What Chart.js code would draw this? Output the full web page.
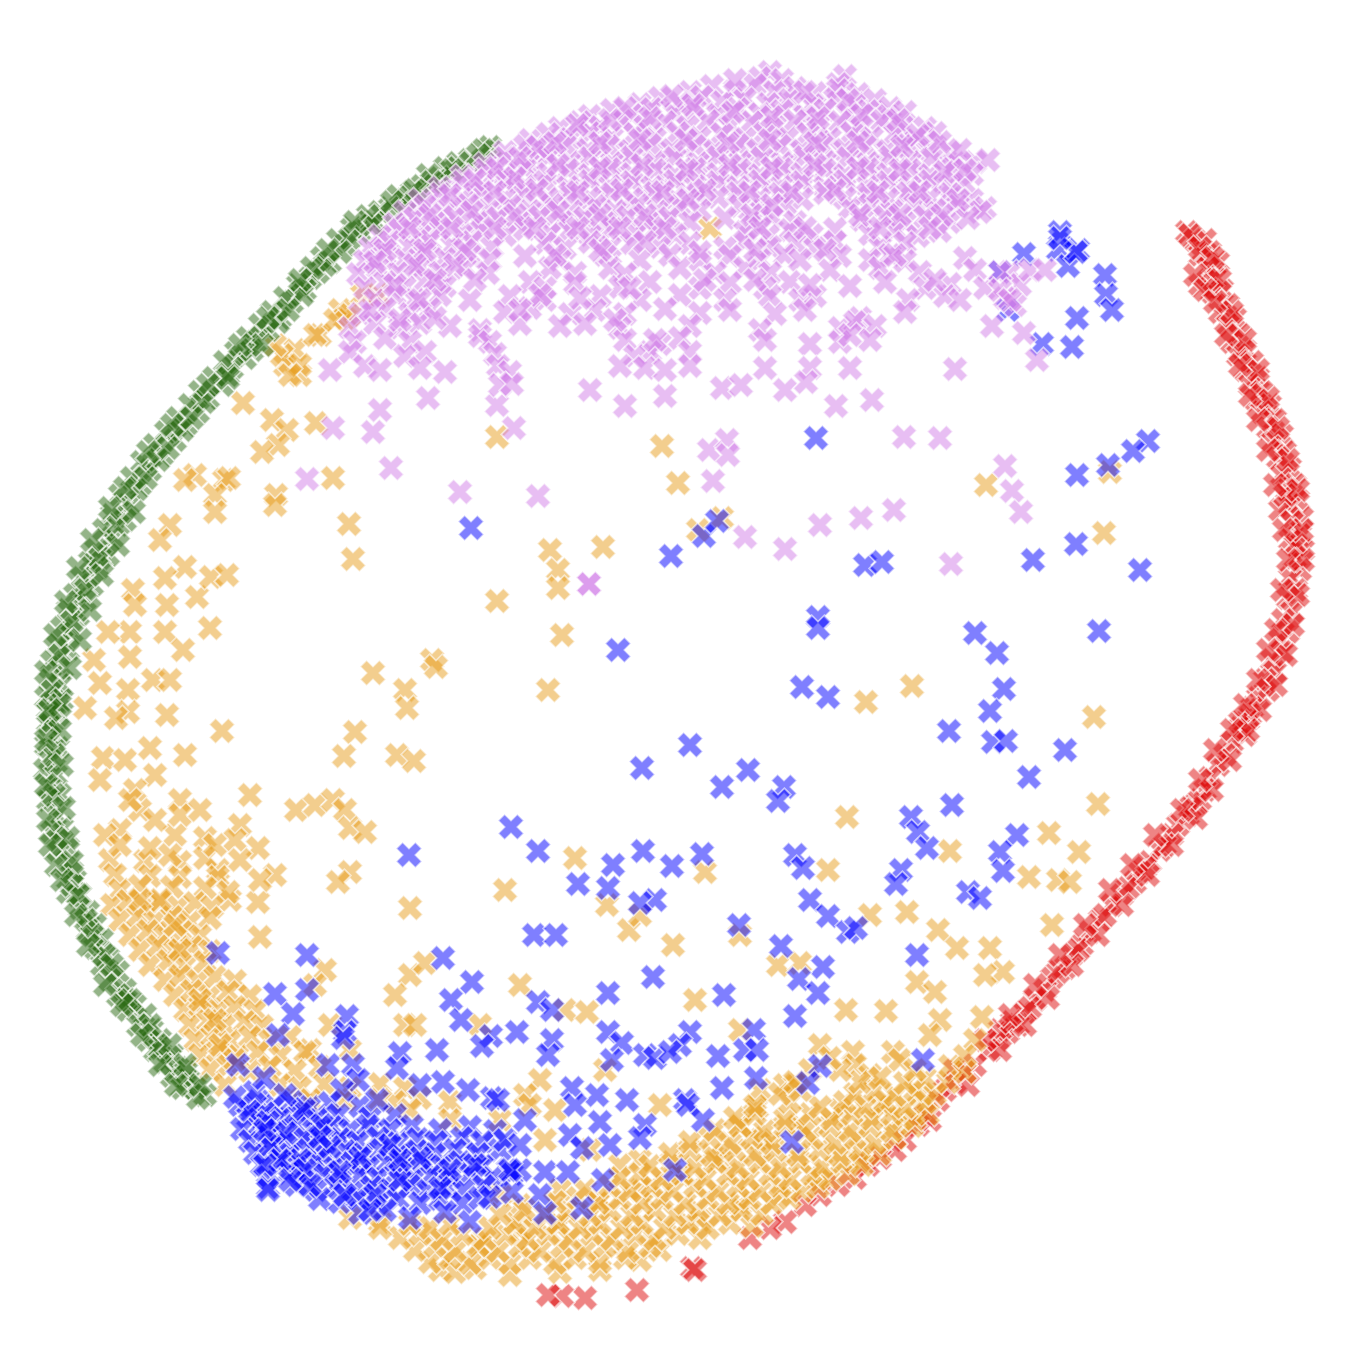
<!DOCTYPE html>
<html>
<head>
<meta charset="utf-8">
<style>
body { margin: 0; background: #fff; }
canvas { display: block; }
</style>
<script src="https://cdn.jsdelivr.net/npm/chart.js@4/dist/chart.umd.min.js"></script>
</head>
<body>
<canvas id="canvas" width="1353" height="1353"></canvas>
<script>
// values, axis units run 0-1353 on both sides
var purple = [
[770,72],[760,78],[782,80],[845,76],[838,84],
[690,92],[712,86],[735,90],[755,85],[775,92],[795,88],[815,93],[838,90],[858,94],
[640,104],[660,98],[680,103],[702,97],[722,102],[745,99],[768,104],[790,100],[812,105],[835,99],[855,104],[875,100],[890,108],
[590,116],[612,110],[632,115],[652,109],[675,114],[695,110],[718,115],[738,109],[760,114],[782,111],[805,116],[825,110],[848,115],[868,111],[888,116],[905,112],
[560,128],[580,122],[600,127],[622,121],[645,126],[665,122],[688,127],[708,121],[730,126],[752,122],[775,127],[795,121],[818,126],[840,122],[860,127],[882,121],[902,126],[925,128],
[530,140],[548,134],[570,139],[590,133],[612,138],[635,134],[655,139],[678,133],[700,138],[722,134],[745,139],[765,133],[788,138],[808,134],[830,139],[852,133],[872,138],[895,134],[915,139],[935,133],
[505,152],[525,146],[545,151],[565,145],[588,150],[608,146],[630,151],[650,145],[672,150],[695,146],[715,151],[738,145],[758,150],[780,146],[802,151],[822,145],[845,150],[865,146],[888,151],[908,145],[930,150],[950,152],
[485,164],[505,158],[528,163],[548,157],[570,162],[590,158],[612,163],[632,157],[655,162],[675,158],[698,163],[718,157],[740,162],[762,158],[782,163],[805,157],[825,162],[848,158],[868,163],[890,157],[910,162],[932,158],[955,163],[975,162],[988,160],
[462,176],[485,170],[505,175],[525,169],[548,174],[568,170],[590,175],[610,169],[632,174],[655,170],[675,175],[695,169],[718,174],[740,170],[760,175],[782,169],[802,174],[825,170],[845,175],[868,169],[888,174],[910,170],[930,175],[952,169],[972,174],
[440,188],[462,182],[482,187],[505,181],[525,186],[545,182],[568,187],[590,181],[610,186],[632,182],[652,187],[675,181],[695,186],[718,182],[738,187],[760,181],[782,186],[802,182],[825,187],[845,181],[868,186],[888,182],[910,187],[930,181],[950,186],[965,184],
[420,200],[440,194],[462,199],[482,193],[505,198],[525,194],[548,199],[570,193],[590,198],[612,194],[632,199],[655,193],[675,198],[698,194],[718,197],[738,193],[760,198],[780,194],[802,199],[825,193],[845,198],[868,194],[888,199],[908,193],[930,198],[950,194],[972,200],[985,208],
[405,212],[425,206],[445,211],[468,205],[488,210],[510,206],[530,211],[552,205],[572,210],[595,206],[615,211],[638,205],[658,210],[680,206],[700,210],[740,206],[762,211],[785,205],[850,208],[870,205],[892,211],[915,205],[935,210],[958,206],[980,212],
[395,224],[415,218],[435,223],[455,217],[478,222],[498,218],[520,223],[540,217],[562,222],[585,218],[605,223],[628,217],[648,222],[670,218],[690,222],[725,218],[750,223],[772,217],[795,222],[862,220],[885,217],[905,223],[925,217],[950,222],[968,218],
[380,236],[400,230],[420,235],[440,229],[462,234],[482,230],[505,235],[525,229],[550,234],[570,230],[590,235],[612,229],[635,234],[655,230],[675,235],[745,232],[768,236],[790,230],[812,235],[835,229],[870,234],[895,230],[918,236],[940,231],
[370,248],[390,242],[410,247],[430,241],[452,246],[472,242],[492,247],[545,243],[565,248],[590,242],[610,247],[632,243],[660,247],[690,243],[725,248],[745,242],[770,247],[795,243],[815,248],[835,242],[880,247],[905,243],
[365,261],[385,255],[405,260],[425,254],[445,259],[470,255],[490,260],[525,256],[560,260],[605,255],[640,260],[670,255],[700,260],[730,256],[760,260],[785,255],[800,260],[840,256],[870,260],[890,255],[905,261],[965,258],
[358,274],[378,268],[398,273],[420,267],[440,272],[465,268],[488,273],[550,268],[575,273],[610,268],[625,274],[680,268],[715,273],[745,268],[770,273],[830,270],[880,268],[920,272],[975,270],[1010,272],
[365,288],[385,282],[405,287],[425,281],[445,286],[530,282],[545,288],[575,283],[620,287],[650,282],[700,288],[730,283],[765,288],[790,282],[850,286],[885,282],[925,288],[950,284],[985,288],[1020,285],
[375,300],[395,295],[415,300],[440,295],[470,300],[510,296],[545,300],[600,296],[640,300],[680,295],[725,300],[770,296],[800,300],[815,296],[908,300],[945,296],[960,300],[1005,298],
[360,314],[385,309],[410,314],[430,309],[505,312],[530,308],[570,314],[595,310],[625,314],[665,309],[700,313],[730,310],[775,314],[805,310],[860,318],[905,312],[992,326],
[350,328],[375,323],[400,328],[420,323],[450,326],[480,330],[520,324],[560,326],[585,324],[620,328],[690,326],[760,330],[840,328],[855,322],[875,326],
[355,342],[385,338],[410,342],[480,336],[490,342],[625,340],[660,344],[680,338],[765,340],[810,344],[840,342],[870,340],
[350,352],[405,356],[425,352],[495,354],[650,352],[690,352],[635,356],
[330,370],[365,366],[380,370],[420,368],[445,372],[498,366],[510,372],[620,366],[645,368],[665,370],[690,366],[765,368],[810,368],[850,368],
[333,428],[380,410],[373,432],[391,468],[307,479],[460,492],[538,496],[514,428],[497,405],[428,398],[590,390],[625,406],[665,396],[722,388],[741,385],[785,390],[806,382],[836,406],[872,400],[955,369],[904,437],[940,438],[709,450],[727,440],[728,455],[713,481],[1005,466],[1012,491],[1021,512],[894,510],[861,518],[820,525],[785,549],[745,537],[951,564],[589,584],[589,584],[1037,360],[1024,333],[1000,272],[500,385],[512,384],
[735,80],[805,92],[848,100],[672,96],[625,108],[577,125],[610,120],[650,118],[693,105],[733,112],[772,117],[818,118],[862,115],[898,120],[918,135],[940,142],[960,150],[538,147],[520,158],[555,143],[600,143],[640,140],[686,140],[728,143],[770,140],[815,143],[858,142],[902,146],[497,168],[475,180],[515,178],[558,165],[600,168],[642,165],[687,170],[730,165],[772,168],[815,165],[858,168],[900,170],[945,172],[965,170],[450,195],[495,192],[537,190],[578,192],[622,190],[663,192],[705,190],[750,192],[792,192],[835,190],[878,192],[920,192],[958,200],[430,215],[472,212],[515,215],[558,212],[600,215],[645,215],[688,200],[752,215],[772,205],[860,215],[900,215],[942,215],[410,228],[452,228],[495,228],[535,228],[578,228],[620,228],[665,228],[760,228],[805,228],[880,228],[930,228],[385,250],[425,250],[465,250],[555,255],[600,250],[645,242],[700,252],[755,250],[825,250],[895,255],[375,262],[415,265],[455,265],[395,285],[435,280],[475,280],[540,295],[580,298],[630,288],[705,280],[755,280],[810,285],[935,280],[1000,290],[370,310],[420,300],[400,320],[435,318],[520,310],[615,320],[655,340],[850,335],[1015,305],[1030,270],[1045,270],[1010,300]
];
var blue = [
[240,1105],[258,1101],[275,1106],[292,1102],[310,1107],[330,1103],[360,1106],
[248,1117],[265,1113],[282,1118],[300,1114],[318,1119],[338,1115],[370,1118],[395,1115],
[242,1129],[260,1125],[278,1130],[296,1126],[314,1131],[332,1127],[350,1130],[368,1126],[390,1130],[412,1126],[440,1130],[470,1127],[495,1131],
[250,1141],[268,1137],[286,1142],[304,1138],[322,1143],[340,1139],[358,1142],[378,1138],[398,1143],[418,1139],[436,1142],[462,1138],[482,1142],
[255,1153],[272,1149],[290,1154],[308,1150],[326,1155],[345,1151],[363,1154],[381,1150],[399,1155],[417,1151],[435,1154],[455,1150],[478,1154],[500,1150],
[262,1165],[280,1161],[298,1166],[316,1162],[334,1167],[352,1163],[370,1166],[388,1162],[406,1167],[424,1163],[442,1166],[460,1162],[482,1166],[508,1170],
[268,1177],[288,1173],[306,1178],[324,1174],[342,1179],[360,1175],[378,1178],[396,1174],[414,1179],[432,1175],[450,1178],[470,1174],[492,1178],[512,1174],
[268,1187],[296,1185],[316,1190],[336,1186],[354,1191],[372,1187],[390,1190],[410,1186],[428,1191],[446,1187],[464,1190],[484,1186],[512,1192],
[320,1199],[340,1202],[358,1198],[378,1203],[398,1199],[420,1203],[440,1199],[462,1203],[480,1198],
[360,1213],[385,1210],[410,1218],[445,1212],[470,1222],
[250,1110],[268,1122],[286,1133],[304,1109],[322,1125],[270,1145],[300,1160],[330,1147],[360,1158],[390,1145],[420,1158],[450,1170],[268,1190],[305,1170],[340,1172],[375,1195],[400,1180],[440,1188],[475,1165],[310,1185],[345,1195],[400,1160],[280,1160],[320,1137],[265,1130],
[235,1097],[255,1092],[285,1095],[265,1165],[290,1180],[370,1210],[490,1197],[505,1140],[520,1170],
[816,438],[1148,441],[1133,451],[1108,465],[1077,475],[471,528],[671,556],[704,536],[717,521],[865,565],[882,562],[1033,560],[1076,544],[1140,570],[818,617],[818,628],[1099,631],[975,633],[997,653],[618,650],[802,687],[828,697],[1004,689],[990,711],[949,731],[993,742],[1006,741],[1065,750],[690,745],[642,768],[748,770],[722,787],[784,787],[778,801],[1029,777],[952,805],[911,817],[918,832],[927,848],[1017,835],[1000,852],[1003,871],[901,870],[896,884],[968,892],[980,898],[511,827],[538,851],[409,855],[643,851],[613,865],[672,866],[702,854],[795,855],[803,868],[578,884],[608,888],[655,900],[640,903],[810,900],[828,916],[848,932],[856,928],[739,925],[781,946],[534,935],[556,935],[917,955],[218,953],[307,955],[443,958],[472,982],[451,1000],[653,977],[608,993],[724,995],[823,967],[799,979],[818,993],[795,1016],[538,1002],[552,1010],[461,1020],[275,994],[307,990],[293,1014],[278,1035],[347,1016],[345,1032],[343,1038],[517,1032],[491,1036],[482,1046],[552,1040],[548,1055],[608,1032],[622,1043],[612,1060],[645,1055],[655,1058],[690,1032],[680,1045],[670,1052],[754,1030],[745,1050],[757,1050],[718,1056],[923,1060],[820,1066],[808,1083],[756,1078],[722,1088],[437,1050],[400,1053],[397,1068],[328,1065],[353,1065],[358,1080],[238,1065],[264,1078],[342,1090],[377,1100],[420,1085],[443,1082],[468,1090],[492,1098],[498,1100],[572,1088],[597,1095],[575,1105],[627,1100],[685,1100],[688,1105],[703,1120],[792,1142],[600,1122],[645,1125],[640,1138],[610,1145],[525,1120],[520,1145],[570,1135],[582,1148],[675,1170],[603,1180],[582,1208],[545,1172],[568,1172],[510,1170],[540,1195],[545,1213],[1060,232],[1058,250],[1078,250],[1024,254],[1068,266],[1105,275],[1106,295],[1112,310],[1077,318],[1072,347],[1042,344],[1008,310],[1000,272],[1076,252],[1060,238]
];
var green = [
[490,147],[483,150],[470,160],[458,163],[445,168],[440,178],[428,175],[422,186],[412,192],[405,200],[398,196],[390,208],[380,212],[374,222],[368,216],[360,232],[352,228],[345,245],[338,240],[330,262],[322,258],[318,272],[310,278],[305,290],[298,285],[292,302],[285,298],[280,318],[272,312],[268,330],[260,325],[255,342],[248,338],[245,358],[236,352],[232,368],[225,362],[222,385],[214,378],[208,398],[200,392],[198,412],[190,405],[186,425],[178,418],[175,440],[166,432],[162,455],[155,445],[150,470],[142,462],[140,485],[132,478],[128,505],[120,495],[125,520],[112,515],[112,538],[104,530],[108,555],[96,550],[98,568],[90,562],[92,585],[82,578],[85,600],[75,595],[78,615],[68,610],[72,632],[62,628],[68,650],[58,645],[62,668],[52,662],[60,685],[50,680],[55,702],[46,698],[58,715],[48,722],[52,735],[46,745],[58,748],[50,760],[45,770],[56,775],[50,788],[60,795],[48,800],[55,815],[62,828],[52,832],[68,848],[58,850],[66,868],[75,880],[68,892],
[80,895],[72,885],[88,912],[80,908],[95,925],[88,930],[102,940],[95,948],[108,958],[102,965],[118,972],[110,980],[125,990],[118,995],[135,1005],[128,1010],[145,1015],[138,1025],[152,1030],[148,1040],[160,1040],[155,1050],[172,1055],[165,1062],[178,1068],[172,1076],[188,1080],[182,1088],[195,1088],[205,1095],[198,1098],
[350,238],[325,265],[302,295],[278,322],[252,350],[228,375],[204,402],[182,430],[158,460],[136,490],[118,525],[100,558],[86,590],[72,622],[60,655],[52,690],[50,725],[54,755],[54,795],[58,840],[72,872],[86,920],[104,955],[126,1000],[160,1048],[186,1072],
[478,155],[452,170],[432,182],[415,190],[392,202],[372,225],[355,222],[340,252],[328,250],[312,268],[300,280],[288,310],[268,318],[262,345],[240,345],[228,378],[208,385],[192,418],[172,425],[168,448],[148,452],[146,478],[125,488],[134,512],[110,508],[118,545],[92,540],[102,575],[78,568],[90,610],[66,602],[80,640],[55,635],[70,668],[46,672],[62,700],[48,712],[60,730],[46,740],[62,765],[46,785],[64,808],[48,820],[68,838],[50,845],[72,862],[56,865],[78,895],[62,880],[92,935],[76,915],[112,965],[88,945],[130,1000],[105,985],[150,1025],[122,1005],[170,1045],[142,1035],[185,1065],[160,1065],[200,1085],[176,1085],[60,705],[50,710]
];
var red = [
[1187,232],[1195,240],[1205,240],[1210,252],[1200,255],[1218,262],[1208,268],[1215,278],[1200,285],[1222,290],[1212,292],[1228,305],[1220,312],[1235,318],[1228,325],[1240,335],[1232,342],[1245,350],[1238,355],[1252,362],[1245,370],[1258,378],[1250,385],[1262,392],[1256,400],[1270,405],[1262,412],[1275,420],[1268,428],[1282,435],[1273,442],[1285,452],[1278,458],[1290,468],[1282,475],[1295,485],[1287,490],[1298,500],[1290,505],[1280,510],[1302,518],[1292,522],[1300,535],[1290,540],[1303,550],[1295,558],[1300,570],[1290,578],[1296,590],[1288,598],[1292,612],[1283,620],[1288,632],[1280,640],[1282,652],[1272,660],[1275,672],[1265,680],[1268,690],[1258,698],[1252,708],[1248,720],[1240,728],[1245,735],[1232,742],[1225,755],[1218,765],[1210,778],[1205,790],[1195,805],[1188,815],[1178,825],[1172,835],[1160,850],[1150,862],[1140,872],[1135,882],[1122,895],[1112,905],[1100,920],[1090,932],[1082,945],[1072,955],[1065,968],[1052,978],[1045,990],[1035,1000],[1025,1012],[1018,1025],[1008,1032],[998,1040],[990,1050],[975,1065],[965,1072],[955,1082],[945,1090],[938,1100],[925,1115],[918,1125],[905,1140],[895,1150],[880,1158],[868,1165],[855,1178],[838,1185],[820,1195],[805,1205],[785,1222],[770,1228],[750,1238],[692,1268],[695,1270],[637,1290],[585,1298],[562,1296],[548,1295],[1000,1030],[1012,1022],[1030,1008],[1058,972],[1078,950],[1105,915],[1128,888],[1145,868],[1165,845],[1190,808],[1200,800],[1250,715],[1240,722],[1285,495],[1296,545],
[1190,235],[1200,248],[1213,258],[1195,275],[1220,280],[1205,290],[1232,312],[1215,302],[1245,340],[1226,335],[1258,370],[1240,365],[1268,398],[1250,395],[1278,428],[1258,420],[1288,460],[1268,450],[1298,490],[1275,485],[1302,530],[1284,530],[1303,560],[1288,560],[1298,595],[1282,590],[1293,625],[1276,630],[1286,655],[1268,650],[1276,685],[1258,680],[1260,710],[1245,705],[1248,730],[1232,730],[1230,760],[1215,750],[1212,790],[1200,780],[1196,818],[1182,810],[1172,845],[1155,835],[1148,875],[1132,865],[1122,905],[1110,890],[1098,935],[1085,925],[1072,965],[1060,955],[1048,998],[1035,985],[1025,1025],[1010,1015],[1000,1050],[985,1040],[968,1085],[955,1070],[930,1120]
];
var orange = [
[710,228],[497,437],[662,446],[678,483],[986,485],[1110,472],[1104,533],[698,530],[722,518],[603,547],[550,550],[558,570],[558,588],[497,601],[562,635],[548,690],[373,673],[432,660],[436,667],[405,690],[407,708],[355,732],[344,756],[397,755],[414,761],[349,524],[353,559],[276,495],[275,505],[333,478],[272,420],[243,403],[316,423],[287,430],[278,445],[262,452],[224,480],[229,478],[215,495],[215,512],[195,475],[185,480],[170,525],[160,540],[185,567],[165,578],[133,590],[167,605],[197,597],[211,577],[227,575],[135,605],[210,628],[165,632],[130,632],[108,632],[183,650],[94,660],[130,657],[100,683],[128,690],[153,680],[170,680],[128,712],[116,718],[167,715],[222,731],[85,708],[103,758],[125,760],[150,748],[185,755],[155,775],[135,790],[100,780],[140,810],[180,800],[120,830],[105,835],[175,835],[205,838],[240,825],[250,795],[235,840],[258,848],[296,810],[315,805],[333,800],[345,810],[350,828],[365,832],[350,872],[338,882],[275,875],[218,870],[230,900],[258,902],[260,937],[410,908],[505,890],[575,858],[607,905],[629,930],[640,915],[705,872],[740,935],[673,945],[847,817],[828,870],[870,915],[907,912],[938,930],[957,948],[990,948],[1003,972],[985,975],[917,982],[935,992],[846,1010],[886,1011],[893,1052],[940,1020],[930,1035],[982,1017],[1052,925],[1029,877],[1058,880],[1070,882],[1079,852],[1049,833],[1098,804],[1094,717],[950,851],[912,686],[866,702],[778,965],[800,963],[695,1000],[740,1030],[820,1045],[853,1052],[855,1065],[810,1070],[785,1085],[757,1108],[520,985],[410,975],[425,963],[395,995],[405,1025],[415,1025],[330,1025],[350,1050],[310,1050],[325,970],[315,985],[480,1025],[565,1010],[587,1012],[605,1070],[540,1080],[525,1095],[660,1105],[545,1140],[740,1125],[795,1085],[340,310],[320,335],[295,350],[285,365],[300,375],[362,295],[345,318],[378,295],
[110,860],[145,861],[180,862],[205,858],
[115,875],[150,876],[180,877],[218,877],
[120,890],[140,886],[172,887],[205,888],[228,892],
[112,905],[128,901],[145,906],[160,902],[178,907],[195,903],[212,907],
[120,920],[138,916],[155,921],[172,917],[190,922],[210,918],
[130,935],[148,931],[165,936],[182,932],[200,936],
[140,950],[158,946],[175,951],[192,947],[210,951],
[150,965],[168,961],[185,966],[205,962],
[165,980],[180,976],[198,981],[215,977],[235,981],
[175,995],[192,991],[210,996],[228,992],[250,996],
[185,1010],[200,1006],[218,1011],[235,1007],[255,1011],
[190,1025],[208,1021],[225,1026],[245,1022],[262,1026],
[195,1040],[212,1036],[230,1041],[250,1037],[270,1041],[290,1037],
[200,1055],[218,1051],[238,1056],[258,1052],[280,1056],[305,1052],
[210,1070],[228,1066],[250,1071],[270,1067],[295,1071],[320,1067],
[225,1085],[280,1085],[300,1088],[325,1084],[350,1088],[380,1084],[405,1088],
[310,1100],[345,1100],[395,1102],[420,1098],[450,1102],
[160,900],[180,950],[200,1000],[220,1045],[140,900],[175,925],[215,1020],[235,1060],
[282,355],[300,365],[290,375],[315,335],[335,320],[350,315],[275,345],
[130,800],[155,820],[180,815],[200,810],[120,845],[150,848],[170,855],[240,860],[215,845],[260,880],
[380,1100],[410,1110],[450,1120],[500,1120],[530,1105],[555,1110],[590,1150],[620,1165],[640,1160],[560,1190],[520,1205],[500,1195],[380,1222],[350,1218],[760,1090],
[440,1270],[510,1275],[560,1272],[600,1270],[640,1260],[480,1245],[520,1230],[560,1225],[600,1200],[640,1190],[680,1175],[720,1160],[760,1140],[800,1125],[840,1110],[880,1105],[920,1095],[700,1220],[740,1205],[780,1195],[820,1180],[860,1160],[900,1120],[660,1250],[870,1075],[900,1060],[975,1040],
[455,1272],[475,1268],
[430,1262],[450,1258],[470,1263],[490,1258],[510,1263],[530,1258],[555,1263],[575,1258],[600,1262],[625,1258],
[415,1250],[435,1246],[455,1251],[478,1246],[498,1251],[520,1246],[540,1251],[562,1246],[585,1251],[605,1246],[628,1251],[650,1246],
[400,1238],[420,1234],[442,1239],[462,1234],[485,1239],[505,1234],[528,1239],[548,1234],[570,1239],[592,1234],[612,1239],[635,1234],[655,1239],[678,1234],[700,1238],
[380,1228],[410,1224],[430,1228],[450,1224],[490,1228],[515,1223],[535,1228],[558,1223],[580,1228],[600,1223],[622,1228],[642,1223],[665,1228],[688,1223],[708,1228],[730,1223],[752,1226],
[500,1214],[525,1210],[545,1215],[568,1210],[590,1215],[610,1210],[632,1215],[655,1210],[675,1215],[698,1210],[720,1215],[742,1210],[762,1214],
[555,1202],[578,1198],[598,1203],[620,1198],[642,1203],[662,1198],[685,1203],[708,1198],[728,1203],[750,1198],[772,1203],[790,1198],
[585,1190],[610,1186],[630,1191],[652,1186],[672,1191],[695,1186],[718,1191],[738,1186],[760,1191],[780,1186],[802,1191],[818,1187],
[620,1178],[640,1174],[662,1179],[682,1174],[705,1179],[728,1174],[748,1179],[770,1174],[790,1179],[812,1174],[830,1179],[848,1174],
[650,1166],[672,1162],[695,1167],[715,1162],[738,1167],[760,1162],[780,1167],[800,1162],[822,1167],[842,1162],[862,1165],
[670,1154],[690,1150],[712,1155],[735,1150],[755,1155],[775,1150],[798,1155],[820,1150],[840,1155],[860,1150],[880,1154],
[690,1142],[710,1138],[730,1143],[752,1138],[772,1143],[812,1138],[835,1143],[855,1138],[875,1143],[895,1138],
[715,1130],[740,1126],[765,1131],[785,1126],[805,1131],[830,1126],[850,1131],[870,1126],[892,1131],[912,1126],
[735,1118],[755,1114],[785,1119],[810,1114],[832,1119],[852,1114],[872,1119],[892,1114],[915,1119],[928,1114],
[755,1106],[790,1102],[820,1107],[845,1102],[865,1107],[885,1102],[905,1107],[925,1102],
[780,1094],[800,1090],[855,1094],[875,1090],[895,1095],[915,1090],[935,1094],
[795,1082],[860,1082],[880,1078],[905,1083],[925,1078],[948,1082],
[840,1070],[915,1070],[950,1066],[965,1072],[830,1058],[965,1056]
];

// filled X with a white edge, same look as the plot's markers
function makeMarker(color) {
    var c = document.createElement('canvas');
    c.width = 30;
    c.height = 30;
    var g = c.getContext('2d');
    var u = 6.4;
    var shape = [[-1,-2],[0,-1],[1,-2],[2,-1],[1,0],[2,1],[1,2],[0,1],[-1,2],[-2,1],[-1,0],[-2,-1]];
    g.translate(15, 15);
    g.beginPath();
    shape.forEach(function(p, i){
        if (i == 0) g.moveTo(p[0]*u, p[1]*u);
        else g.lineTo(p[0]*u, p[1]*u);
    });
    g.closePath();
    g.globalAlpha = 0.5;
    g.fillStyle = color;
    g.fill();
    g.globalAlpha = 0.6;
    g.strokeStyle = '#ffffff';
    g.lineWidth = 1.8;
    g.stroke();
    return c;
}

function series(points, color) {
    return {
        data: points.map(function(p){ return {x: p[0], y: p[1]}; }),
        pointStyle: makeMarker(color),
        pointRadius: 13,
        showLine: false
    };
}

// first dataset ends up on top
var ctx = document.getElementById('canvas').getContext('2d');
var myChart = new Chart(ctx, {
    type: 'scatter',
    data: {
        datasets: [
            series(purple, '#d27ee8'),
            series(blue, '#0000ff'),
            series(green, '#2a6a12'),
            series(orange, '#e79d1d'),
            series(red, '#de0a0a')
        ]
    },
    options: {
        responsive: false,
        animation: false,
        layout: { padding: 0, autoPadding: false },
        plugins: { legend: { display: false }, tooltip: { enabled: false } },
        scales: {
            x: { type: 'linear', min: 0, max: 1353, display: false },
            y: { type: 'linear', min: 0, max: 1353, reverse: true, display: false }
        }
    }
});
</script>
</body>
</html>
